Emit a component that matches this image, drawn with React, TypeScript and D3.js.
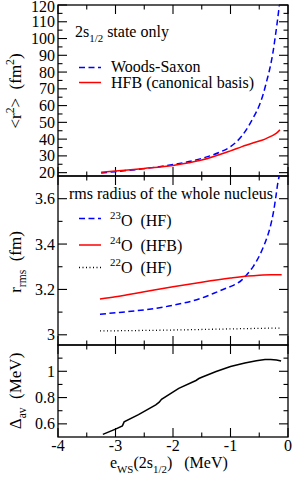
import React, { useEffect, useRef } from 'react';
import * as d3 from 'd3';

// e_WS(2s1/2) in MeV vs <r^2> of the 2s1/2 state
const eWoodsSaxon = [-3.25, -3.0, -2.5, -2.0, -1.5, -1.2, -1.0, -0.8, -0.6, -0.5, -0.43, -0.36, -0.31, -0.26, -0.23, -0.19, -0.15];
const r2WoodsSaxon = [19.8, 20.6, 22.4, 24.8, 28.5, 32, 35.5, 42, 53, 60, 67, 76, 83, 92, 99, 109, 120];
const eHFB = [-3.25, -3.0, -2.5, -2.0, -1.5, -1.0, -0.8, -0.6, -0.4, -0.3, -0.2, -0.14];
const r2HFB = [20.2, 21.0, 22.5, 24.3, 27.5, 33.0, 35.5, 37.8, 40.0, 41.6, 43.6, 45.5];

// rms radius of the whole nucleus (fm)
const eO23 = [-3.27, -3.0, -2.5, -2.0, -1.5, -1.3, -1.1, -0.95, -0.8, -0.7, -0.6, -0.54, -0.43, -0.35, -0.31, -0.25, -0.21, -0.17, -0.15];
const rmsO23 = [3.091, 3.097, 3.11, 3.13, 3.162, 3.182, 3.203, 3.218, 3.242, 3.27, 3.303, 3.328, 3.386, 3.44, 3.474, 3.545, 3.61, 3.68, 3.7];
const eO24 = [-3.27, -3.0, -2.5, -2.0, -1.5, -1.0, -0.7, -0.5, -0.3, -0.11];
const rmsO24 = [3.158, 3.168, 3.19, 3.212, 3.232, 3.25, 3.259, 3.263, 3.265, 3.265];
const eO22 = [-3.27, -2.0, -1.0, -0.11];
const rmsO22 = [3.017, 3.021, 3.026, 3.03];

// average pairing gap (MeV)
const eDelta = [-3.22, -3.0, -2.88, -2.85, -2.6, -2.3, -2.24, -2.2, -1.9, -1.6, -1.55, -1.5, -1.25, -1.0, -0.75, -0.55, -0.4, -0.3, -0.2, -0.12];
const deltaAv = [0.52, 0.56, 0.585, 0.615, 0.67, 0.745, 0.765, 0.787, 0.87, 0.93, 0.945, 0.955, 0.998, 1.037, 1.063, 1.08, 1.09, 1.09, 1.085, 1.078];

const xTickLabels = [-4, -3, -2, -1, 0];
const r2TickLabels = [20, 30, 40, 50, 60, 70, 80, 90, 100, 110, 120];
const rmsTickLabels = [3, 3.2, 3.4, 3.6];
const deltaTickLabels = [0.6, 0.8, 1];

const FONT = '"Liberation Serif", Tinos, "Times New Roman", "DejaVu Serif", serif';
const BLUE = '#0000ff';
const RED = '#ff0000';

type Part = { t: string; s?: 'sup' | 'sub' };

const App: React.FC = () => {
  const chartRef = useRef<SVGSVGElement | null>(null);

  useEffect(() => {
    const svg = d3.select(chartRef.current);
    svg.selectAll('*').remove();

    const left = 58;
    const right = 288;
    const x = d3.scaleLinear().domain([-4, 0]).range([left, right]);

    // write text with sub/superscripts
    const rich = (sel: any, parts: Part[], size: number) => {
      let shift = 0;
      parts.forEach((p) => {
        const target = p.s === 'sup' ? -0.42 * size : p.s === 'sub' ? 0.3 * size : 0;
        sel.append('tspan')
          .attr('dy', target - shift)
          .attr('font-size', p.s ? size * 0.68 : size)
          .text(p.t);
        shift = target;
      });
      return sel;
    };

    const panels = [
      { y: d3.scaleLinear().domain([18, 120]).range([176, 5]), major: r2TickLabels, minor: d3.range(25, 120, 10), fmt: d3.format('d') },
      { y: d3.scaleLinear().domain([2.955, 3.7]).range([345, 176]), major: rmsTickLabels, minor: [3.1, 3.3, 3.5], fmt: (v: number) => (v === 3 ? '3' : d3.format('.1f')(v)) },
      { y: d3.scaleLinear().domain([0.5, 1.2]).range([437, 345]), major: deltaTickLabels, minor: [0.7, 0.9, 1.1], fmt: (v: number) => (v === 1 ? '1' : d3.format('.1f')(v)) },
    ];

    const xMinor = d3.range(-3.5, 0, 1);
    const MAJ = 9;
    const MIN = 4.5;

    panels.forEach((p) => {
      const [bottom, top] = p.y.range();
      const g = svg.append('g');

      const tick = (x1: number, y1: number, x2: number, y2: number) =>
        g.append('line')
          .attr('x1', x1).attr('y1', y1).attr('x2', x2).attr('y2', y2)
          .attr('stroke', 'black').attr('stroke-width', 1.1);

      xTickLabels.forEach((v) => {
        tick(x(v), top, x(v), top + MAJ);
        tick(x(v), bottom, x(v), bottom - MAJ);
      });
      xMinor.forEach((v) => {
        tick(x(v), top, x(v), top + MIN);
        tick(x(v), bottom, x(v), bottom - MIN);
      });
      p.major.forEach((v) => {
        tick(left, p.y(v), left + MAJ, p.y(v));
        tick(right, p.y(v), right - MAJ, p.y(v));
        g.append('text')
          .attr('x', left - 3)
          .attr('y', Math.max(p.y(v) + 5.5, 12))
          .attr('text-anchor', 'end')
          .attr('font-family', FONT)
          .attr('font-size', 16)
          .text(p.fmt(v));
      });
      p.minor.forEach((v) => {
        tick(left, p.y(v), left + MIN, p.y(v));
        tick(right, p.y(v), right - MIN, p.y(v));
      });

      g.append('rect')
        .attr('x', left).attr('y', top)
        .attr('width', right - left).attr('height', bottom - top)
        .attr('fill', 'none').attr('stroke', 'black').attr('stroke-width', 1.3);
    });

    // x tick labels
    xTickLabels.forEach((v) => {
      svg.append('text')
        .attr('x', x(v))
        .attr('y', 451)
        .attr('text-anchor', 'middle')
        .attr('font-family', FONT)
        .attr('font-size', 16)
        .text(v === 0 ? '0' : `-${Math.abs(v)}`);
    });

    const drawLine = (xs: number[], ys: number[], y: d3.ScaleLinear<number, number>, color: string, dash: string | null, curve: d3.CurveFactory, width = 1.5) => {
      const line = d3.line<number>()
        .x((_, i) => x(xs[i]))
        .y((d) => y(d))
        .curve(curve);
      svg.append('path')
        .datum(ys)
        .attr('fill', 'none')
        .attr('stroke', color)
        .attr('stroke-width', width)
        .attr('stroke-dasharray', dash)
        .attr('d', line);
    };

    const [p1, p2, p3] = panels;
    drawLine(eWoodsSaxon, r2WoodsSaxon, p1.y, BLUE, '6,3.5', d3.curveMonotoneX);
    drawLine(eHFB, r2HFB, p1.y, RED, null, d3.curveMonotoneX);
    drawLine(eO23, rmsO23, p2.y, BLUE, '6,3.5', d3.curveMonotoneX);
    drawLine(eO24, rmsO24, p2.y, RED, null, d3.curveMonotoneX);
    drawLine(eO22, rmsO22, p2.y, 'black', '1,2.5', d3.curveMonotoneX, 1.3);
    drawLine(eDelta, deltaAv, p3.y, 'black', null, d3.curveLinear);

    const text = (px: number, py: number, parts: Part[], size = 16, anchor = 'start', transform: string | null = null) => {
      const t = svg.append('text')
        .attr('font-family', FONT)
        .attr('text-anchor', anchor)
        .style('white-space', 'pre');
      if (transform) t.attr('transform', transform);
      else t.attr('x', px).attr('y', py);
      return rich(t, parts, size);
    };

    const legendLine = (y: number, color: string, dash: string | null, w = 1.5) =>
      svg.append('line')
        .attr('x1', 79).attr('x2', 101).attr('y1', y).attr('y2', y)
        .attr('stroke', color).attr('stroke-width', w)
        .attr('stroke-dasharray', dash);

    // panel 1 legend
    text(75, 37, [{ t: '2s' }, { t: '1/2', s: 'sub' }, { t: ' state only' }], 16);
    legendLine(67.5, BLUE, '6,3.5');
    text(111, 72, [{ t: 'Woods-Saxon' }], 16);
    legendLine(82.5, RED, null);
    text(111, 88, [{ t: 'HFB (canonical basis)' }], 16);

    // panel 2 legend
    text(69, 199, [{ t: 'rms radius of the whole nucleus' }], 16);
    legendLine(218.5, BLUE, '6,3.5');
    text(110, 225.5, [{ t: '23', s: 'sup' }, { t: 'O' }, { t: '  (HF)' }], 16);
    legendLine(245, RED, null);
    text(110, 250.5, [{ t: '24', s: 'sup' }, { t: 'O' }, { t: '  (HFB)' }], 16);
    legendLine(267.5, 'black', '1,2.5', 1.3);
    text(110, 273, [{ t: '22', s: 'sup' }, { t: 'O' }, { t: '  (HF)' }], 16);

    // axis titles
    text(0, 0, [{ t: '<r' }, { t: '2', s: 'sup' }, { t: '>  (fm' }, { t: '2', s: 'sup' }, { t: ')' }], 17, 'middle', 'translate(21,91) rotate(-90)');
    text(0, 0, [{ t: 'r' }, { t: 'rms', s: 'sub' }, { t: '  (fm)' }], 17, 'middle', 'translate(21,262) rotate(-90)');
    text(0, 0, [{ t: 'Δ' }, { t: 'av', s: 'sub' }, { t: '  (MeV)' }], 17, 'middle', 'translate(21,391) rotate(-90)');
    text(110, 468, [{ t: 'e' }, { t: 'WS', s: 'sub' }, { t: '(2s' }, { t: '1/2', s: 'sub' }, { t: ')   (MeV)' }], 16);
  }, []);

  return (
    <svg
      ref={chartRef}
      width={294}
      height={480}
      style={{ position: 'absolute', left: 0, top: 0, background: 'white' }}
    ></svg>
  );
};

export default App;
